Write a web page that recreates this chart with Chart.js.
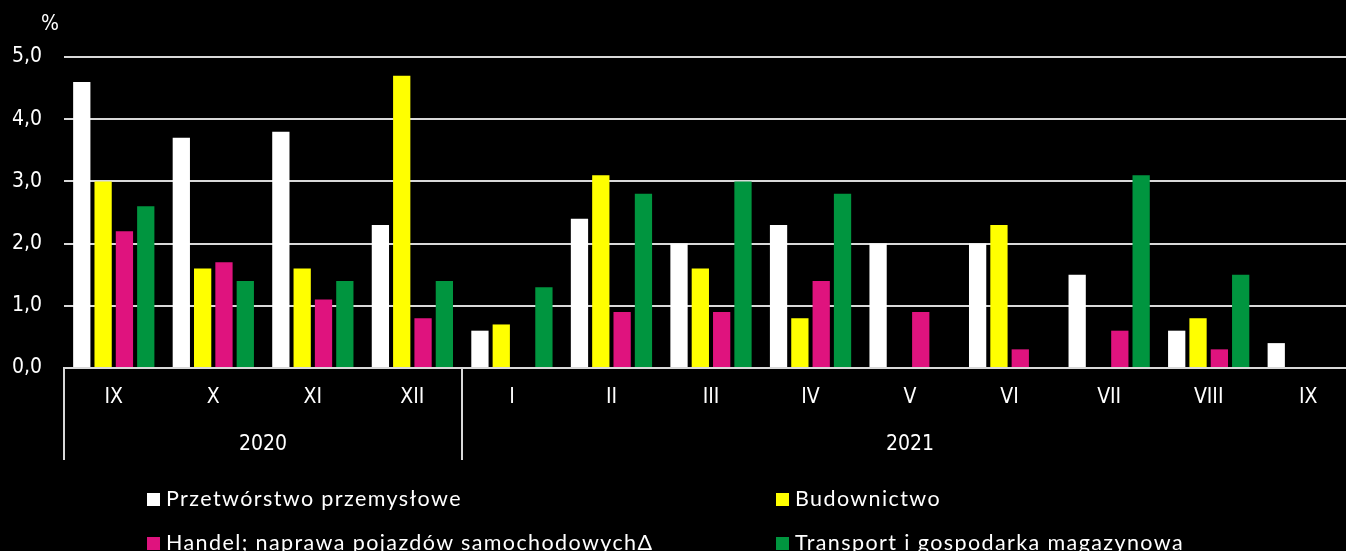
<!DOCTYPE html>
<html>
<head>
<meta charset="utf-8">
<script src="https://cdn.jsdelivr.net/npm/chart.js@4.4.1/dist/chart.umd.min.js"></script>
<style>
  html, body { margin: 0; padding: 0; background: #000; overflow: hidden; width: 1346px; height: 551px; }
  #wrap { position: absolute; left: 0; top: 0; width: 1358px; height: 551px; }
  .leg { position: absolute; color: #fff; font-family: Lato, "Liberation Sans", sans-serif; font-size: 21.5px; letter-spacing: 1.4px; white-space: nowrap; line-height: 24px; }
  .leg span.box { display: inline-block; width: 13px; height: 13px; margin-right: 6px; vertical-align: 0px; }
</style>
</head>
<body>
<div id="wrap"><canvas id="c" width="1358" height="551"></canvas></div>
<div id="legend"></div>
<script>
const monthLabels = ['IX','X','XI','XII','I','II','III','IV','V','VI','VII','VIII','IX'];
const yearLabels = ['2020','2021'];
const yearSpans = [4, 9];
const yTicks = [0, 1, 2, 3, 4, 5];

const seriesNames = ['Przetwórstwo przemysłowe', 'Budownictwo', 'Handel; naprawa pojazdów samochodowychΔ', 'Transport i gospodarka magazynowa'];
const przetworstwo = [4.6, 3.7, 3.8, 2.3, 0.6, 2.4, 2.0, 2.3, 2.0, 2.0, 1.5, 0.6, 0.4];
const budownictwo  = [3.0, 1.6, 1.6, 4.7, 0.7, 3.1, 1.6, 0.8, null, 2.3, null, 0.8, null];
const handel       = [2.2, 1.7, 1.1, 0.8, null, 0.9, 0.9, 1.4, 0.9, 0.3, 0.6, 0.3, null];
const transport    = [2.6, 1.4, 1.4, 1.4, 1.3, 2.8, 3.0, 2.8, null, null, 3.1, 1.5, null];
const colors = ['#ffffff', '#ffff00', '#df137e', '#00953f'];

const FONT = '"Liberation Sans Narrow", "DejaVu Sans Condensed", sans-serif';

const groupPlugin = {
  id: 'groups',
  afterDraw(chart) {
    const ctx = chart.ctx;
    const xs = chart.scales.x;
    const area = chart.chartArea;
    const step = xs.getPixelForValue(1) - xs.getPixelForValue(0);
    ctx.save();
    ctx.strokeStyle = '#d9d9d9';
    ctx.lineWidth = 2;
    ctx.fillStyle = '#ffffff';
    ctx.font = '21px ' + FONT;
    ctx.textAlign = 'center';
    ctx.textBaseline = 'middle';
    let idx = 0;
    const bounds = [];
    for (let g = 0; g < yearSpans.length; g++) {
      const left = xs.getPixelForValue(idx) - step / 2;
      const right = xs.getPixelForValue(idx + yearSpans[g] - 1) + step / 2;
      bounds.push(left, right);
      ctx.fillText(yearLabels[g], (left + right) / 2, area.bottom + 77);
      idx += yearSpans[g];
    }
    const uniq = [...new Set(bounds.map(b => Math.round(b)))];
    uniq.forEach(b => {
      ctx.beginPath();
      ctx.moveTo(b, area.bottom);
      ctx.lineTo(b, area.bottom + 92);
      ctx.stroke();
    });
    ctx.textAlign = 'left';
    ctx.fillText('%', 41, 25);
    ctx.restore();
  }
};

const datasets = [przetworstwo, budownictwo, handel, transport].map((d, i) => ({
  label: seriesNames[i],
  data: d,
  backgroundColor: colors[i],
  borderWidth: 0,
  categoryPercentage: 0.857,
  barPercentage: 0.81
}));

new Chart(document.getElementById('c'), {
  type: 'bar',
  data: { labels: monthLabels, datasets },
  options: {
    responsive: false,
    animation: false,
    layout: { padding: { top: 57, right: 0, left: 0, bottom: 0 } },
    plugins: { legend: { display: false }, tooltip: { enabled: false } },
    scales: {
      x: {
        grid: { display: false, drawTicks: false },
        border: { display: true, color: '#d9d9d9', width: 2 },
        ticks: { color: '#ffffff', font: { family: FONT, size: 21 }, padding: 17, maxRotation: 0, autoSkip: false },
        afterFit(s) { s.height = 183; }
      },
      y: {
        min: 0, max: 5,
        afterBuildTicks(s) { s.ticks = yTicks.map(v => ({ value: v })); },
        grid: { color: '#d9d9d9', lineWidth: 2, drawTicks: false },
        border: { display: false },
        ticks: {
          color: '#ffffff', font: { family: FONT, size: 21 }, padding: 22,
          callback: v => v.toFixed(1).replace('.', ',')
        },
        afterFit(s) { s.width = 64; }
      }
    }
  },
  plugins: [groupPlugin]
});

// Legend (2 columns, row-major)
const legPos = [[147, 486], [776, 486], [147, 530], [776, 530]];
const legend = document.getElementById('legend');
seriesNames.forEach((n, i) => {
  const d = document.createElement('div');
  d.className = 'leg';
  d.style.left = legPos[i][0] + 'px';
  d.style.top = legPos[i][1] + 'px';
  d.innerHTML = '<span class="box" style="background:' + colors[i] + '"></span>' + n;
  legend.appendChild(d);
});
</script>
</body>
</html>
